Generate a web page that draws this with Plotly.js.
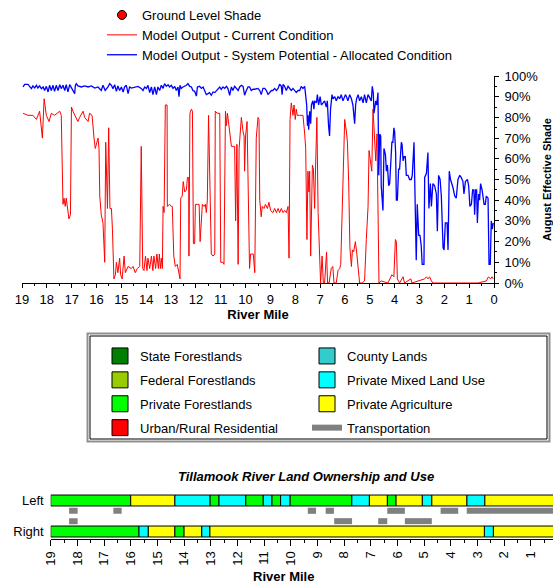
<!DOCTYPE html>
<html><head><meta charset="utf-8">
<script src="https://cdn.plot.ly/plotly-3.0.1.min.js"></script>
<style>html,body{margin:0;padding:0;background:#fff}#chart{width:553px;height:584px}</style>
</head><body><div id="chart"></div>
<script>
// ---------- Shade data (river mile, % effective shade) ----------
const redMile = [
18.96,18.76,18.56,18.42,18.29,18.18,18.11,18.02,17.91,17.82,
17.69,17.48,17.42,17.35,17.31,17.26,17.22,17.15,17.11,17.05,
17.01,16.95,16.88,16.75,16.68,16.54,16.48,16.34,16.28,16.18,
16.10,16.05,15.94,15.90,15.87,15.81,15.74,15.67,15.63,15.56,
15.51,15.46,15.40,15.36,15.30,15.24,15.20,15.14,15.07,15.03,
14.97,14.89,14.84,14.73,14.60,14.53,14.44,14.36,14.26,14.20,
14.14,14.09,14.03,13.97,13.93,13.86,13.79,13.73,13.69,13.62,
13.57,13.51,13.47,13.43,13.39,13.35,13.32,13.28,13.23,13.16,
13.15,13.06,12.99,12.95,12.89,12.83,12.75,12.69,12.64,12.61,
12.55,12.51,12.45,12.38,12.34,12.29,12.28,12.24,12.18,12.14,
12.10,12.05,12.02,11.94,11.87,11.83,11.78,11.74,11.67,11.62,
11.58,11.54,11.49,11.42,11.38,11.31,11.24,11.22,11.14,11.04,
11.00,10.91,10.87,10.81,10.77,10.73,10.68,10.63,10.57,10.44,
10.40,10.35,10.30,10.26,10.22,10.17,10.10,10.06,10.04,10.00,
9.94,9.88,9.84,9.80,9.69,9.63,9.57,9.50,9.46,9.43,
9.37,9.33,9.26,9.20,9.12,9.06,8.99,8.90,8.83,8.76,
8.69,8.63,8.56,8.49,8.43,8.36,8.29,8.25,8.21,8.16,
8.09,8.05,8.00,7.96,7.92,7.82,7.69,7.62,7.58,7.53,
7.49,7.45,7.42,7.38,7.31,7.27,7.22,7.18,7.13,7.08,
7.02,6.98,6.92,6.87,6.82,6.78,6.74,6.70,6.64,6.55,
6.49,6.44,6.35,6.28,6.21,6.17,6.12,6.07,6.01,5.94,
5.90,5.85,5.80,5.74,5.70,5.65,5.58,5.53,5.47,5.41,
5.31,5.21,5.14,5.07,5.03,4.98,4.92,4.87,4.80,4.76,
4.71,4.67,4.63,4.54,4.27,4.11,4.03,3.97,3.93,3.89,
3.80,3.66,3.60,3.35,3.30,2.79,2.72,2.66,2.59,2.52,
2.46,1.99,1.32,0.64,0.31,0.22,0.14,0.08,0.03];
const redShade = [
82,81,81,79,83,70,89,81,78,82,
81,83,81,38,41,37,41,36,31,33,
85,83,81,78,80,83,80,78,82,81,
70,65,70,65,42,33,29,10,68,36,
75,36,36,26,2,4,10,5,12,4,
2,13,5,8,7,8,5,7,8,66,
7,6,13,6,12,7,13,6,13,7,
14,7,14,7,12,7,37,34,86,86,
37,38,37,37,13,8,9,5,2,41,
42,49,44,45,51,51,13,82,84,83,
19,19,38,38,38,20,33,38,37,38,
34,40,81,39,14,13,14,83,82,82,
10,10,9,83,76,82,77,73,66,66,
30,67,9,65,73,80,73,71,54,71,
78,40,7,14,14,5,70,80,79,40,
32,37,36,38,36,39,35,34,36,34,
36,34,36,34,35,34,37,12,79,87,
81,86,79,84,81,81,81,72,65,21,
54,44,54,13,57,55,36,57,80,34,
8,0,13,0,0,7,15,0,0,7,
8,0,0,6,7,9,34,57,79,73,
68,49,17,8,16,15,20,15,5,0,
0,1,21,37,64,60,54,84,70,59,
72,33,0,1,0,4,3,21,20,2,
0,3,0,2,0,2,3,2,3,1,
0,0,0,0,1,3,2,3,2];

const blueMile = [
18.96,18.89,18.76,18.62,18.56,18.49,18.42,18.36,18.29,18.22,
18.15,18.09,18.02,17.95,17.89,17.82,17.75,17.69,17.62,17.55,
17.48,17.42,17.35,17.28,17.22,17.15,17.08,17.01,16.95,16.88,
16.85,16.81,16.75,16.61,16.48,16.34,16.21,16.07,15.94,15.81,
15.74,15.65,15.54,15.47,15.40,15.34,15.27,15.20,15.14,15.07,
15.00,14.93,14.87,14.80,14.73,14.67,14.60,14.46,14.33,14.20,
14.13,14.06,13.99,13.93,13.86,13.79,13.73,13.66,13.59,13.53,
13.46,13.39,13.32,13.26,13.19,13.12,13.06,12.99,12.92,12.85,
12.79,12.72,12.68,12.64,12.59,12.52,12.45,12.38,12.32,12.25,
12.18,12.12,12.05,11.98,11.94,11.85,11.78,11.71,11.65,11.58,
11.51,11.45,11.38,11.31,11.24,11.18,11.11,11.04,10.98,10.91,
10.84,10.77,10.71,10.64,10.57,10.51,10.44,10.37,10.30,10.24,
10.17,10.10,10.04,9.97,9.90,9.84,9.77,9.70,9.63,9.50,
9.43,9.37,9.30,9.23,9.16,9.10,9.03,8.96,8.90,8.83,
8.76,8.69,8.63,8.56,8.53,8.49,8.43,8.36,8.29,8.23,
8.16,8.09,8.02,7.96,7.89,7.82,7.76,7.69,7.62,7.58,
7.54,7.51,7.49,7.46,7.42,7.38,7.35,7.29,7.25,7.22,
7.15,7.11,7.06,7.00,6.95,6.88,6.82,6.75,6.71,6.66,
6.62,6.58,6.52,6.48,6.41,6.35,6.28,6.21,6.15,6.08,
6.04,5.98,5.94,5.88,5.81,5.74,5.68,5.64,5.61,5.57,
5.53,5.47,5.41,5.34,5.27,5.21,5.14,5.07,5.00,4.94,
4.90,4.86,4.83,4.80,4.76,4.72,4.70,4.67,4.64,4.60,
4.56,4.54,4.47,4.43,4.37,4.33,4.29,4.24,4.20,4.16,
4.11,4.07,4.03,4.00,3.96,3.93,3.89,3.84,3.80,3.73,
3.70,3.66,3.62,3.57,3.53,3.46,3.40,3.33,3.29,3.22,
3.17,3.13,3.09,3.03,2.98,2.93,2.89,2.82,2.79,2.72,
2.66,2.62,2.56,2.52,2.46,2.39,2.32,2.28,2.23,2.17,
2.12,2.05,2.01,1.96,1.89,1.85,1.80,1.75,1.65,1.58,
1.52,1.45,1.38,1.32,1.25,1.21,1.15,1.07,1.02,0.97,
0.91,0.86,0.81,0.78,0.74,0.70,0.67,0.62,0.58,0.54,
0.48,0.40,0.35,0.31,0.24,0.20,0.15,0.11,0.07,0.03];
const blueShade = [
94.7,96,96,93.9,95.2,94.2,95.5,94.2,95.2,93.9,
94.7,93,95,92.3,95.5,93,95.5,92.6,95.5,93,
95.8,93.9,95.5,93,95.8,92.3,95.8,94.2,93,91.5,
95.5,96.3,95.2,94.7,95.2,94.7,95.2,94.2,94.7,93,
95.5,93,94.7,96.3,95.5,93.9,95.8,92.6,95.2,93,
94.7,92.3,94.7,95.5,91.5,94.7,94.2,94.7,95,94,
93,94.7,94,95.5,92,94.7,91,94.7,91,94.7,
93,95.5,94,96.3,95,95.8,94.7,95.5,94,95,
93,94.7,90,95.5,94,94.7,95,95.5,96.3,95,
94.7,93,92.6,90.3,94.7,95,94,94.7,93,91,
91.5,92,90.7,92.3,92,93,93.9,94.7,93.6,94.7,
94,95,93.9,90.7,94.7,93,95,94,93,94.7,
95.5,95,90.7,93,94.7,94.7,93,93.6,93.6,94,
93,91,94,94,93,91,92,93,93,94,
93,94,96,95,91,96,95,93,95,94,
93,94,93,92,93,93,95,94,95,90,
86,76,81,74,83,77,86,88,84,88,
87,91,86,90,86,87,88,85,88,76,
71,84,91,89,90,88,90,89,91,88,
89,91,90,88,91,89,86,81,77,86,
89,91,88,90,87,91,87,91,89,88,
95,92,82,84,88,86,92,92,52,72,
71,47,35,65,62,54,57,47,48,56,
68,68,75,73,63,40,40,55,55,68,
67,59,61,61,52,52,50,50,52,68,
38,11,38,23,23,18,9,9,51,53,
63,36,48,37,48,47,43,25,52,50,
42,17,16,29,29,16,54,50,46,42,
41,50,52,51,49,43,49,50,47,37,
38,45,45,33,45,45,29,43,40,48,
45,38,38,42,41,9,9,30,26,29];

// ---------- Land ownership / use (river-mile break points, upstream -> downstream) ----------
const landClasses = ['State Forestlands','Federal Forestlands','Private Forestlands','Urban/Rural Residential',
                     'County Lands','Private Mixed Land Use','Private Agriculture'];
const landColors  = ['#008000','#99cc00','#00ff00','#ff0000','#33cccc','#00ffff','#ffff00'];
const landLegendColumn = ['legend2','legend2','legend2','legend2','legend3','legend3','legend3'];
const leftBreaks = [19,16.0,14.35,13.03,12.69,11.69,11.03,10.71,10.38,10.03,7.71,7.05,6.38,6.05,5.07,4.71,3.40,2.72,0];
const leftUse = ['Private Forestlands','Private Agriculture','Private Mixed Land Use','Private Forestlands',
  'Private Mixed Land Use','Private Forestlands','Private Mixed Land Use','Private Forestlands',
  'Private Mixed Land Use','Private Forestlands','Private Mixed Land Use','Private Agriculture',
  'Private Forestlands','Private Agriculture','Private Mixed Land Use','Private Agriculture',
  'Private Mixed Land Use','Private Agriculture'];
const rightBreaks = [19,15.69,15.34,14.35,14.0,13.34,13.03,2.74,2.40,0];
const rightUse = ['Private Forestlands','Private Mixed Land Use','Private Agriculture','Private Forestlands',
  'Private Agriculture','Private Mixed Land Use','Private Agriculture','Private Mixed Land Use','Private Agriculture'];
const transLeftFrom  = [18.31,16.65,9.36,8.69,6.38,4.38,3.40];
const transLeftTo    = [17.99,16.34,9.05,8.38,5.72,3.72,0];
const transRightFrom = [18.31,8.37,6.72,5.72];
const transRightTo   = [17.99,7.70,6.38,4.71];
const sideLabels = ['Left','Right'];

// ---------- layout helpers ----------
const W = 553, H = 584;
const px = v => v / W, py = v => 1 - v / H;
const rowPos = {Left: 3, LeftRoad: 2, RightRoad: 1, Right: 0};
const FONT = '"Liberation Sans", Arial, Helvetica, sans-serif';

const traces = [];
traces.push({type:'scatter', mode:'markers', x:[null], y:[null], name:'Ground Level Shade',
  marker:{color:'#ff0000', size:9, line:{color:'#000', width:1}}, legend:'legend', hoverinfo:'skip'});
traces.push({type:'scatter', mode:'lines', x:redMile, y:redShade, name:'Model Output - Current Condition',
  line:{color:'#ff0000', width:1}, legend:'legend'});
traces.push({type:'scatter', mode:'lines', x:blueMile, y:blueShade, name:'Model Output - System Potential - Allocated Condition',
  line:{color:'#0000ff', width:1.3}, legend:'legend'});

function segments(breaks, uses, cls, pos, out){
  for (let i = 0; i < uses.length; i++) if (uses[i] === cls) {
    out.y.push(pos); out.base.push(breaks[i+1]); out.x.push(breaks[i] - breaks[i+1]);
  }
}
landClasses.forEach((cls, k) => {
  const s = {x:[], y:[], base:[]};
  segments(leftBreaks, leftUse, cls, rowPos.Left, s);
  segments(rightBreaks, rightUse, cls, rowPos.Right, s);
  if (s.x.length) traces.push({type:'bar', orientation:'h', x:s.x, y:s.y, base:s.base, width:1.06,
    xaxis:'x2', yaxis:'y2', marker:{color:landColors[k], line:{color:'#000', width:1}},
    showlegend:false, hoverinfo:'skip'});
  traces.push({type:'scatter', mode:'markers', x:[null], y:[null], xaxis:'x2', yaxis:'y2', name:cls,
    legend:landLegendColumn[k], legendgroup:cls,
    marker:{symbol:'square', size:16, color:landColors[k], line:{color:'#000', width:1}}, hoverinfo:'skip'});
});
const tx = [], ty = [];
transLeftFrom.forEach((a,i) => { tx.push(a, transLeftTo[i], null); ty.push(rowPos.LeftRoad, rowPos.LeftRoad, null); });
transRightFrom.forEach((a,i) => { tx.push(a, transRightTo[i], null); ty.push(rowPos.RightRoad, rowPos.RightRoad, null); });
traces.push({type:'scatter', mode:'lines', x:tx, y:ty, xaxis:'x2', yaxis:'y2', name:'Transportation',
  legend:'legend3', legendgroup:'Transportation', line:{color:'#808080', width:6}, connectgaps:false, hoverinfo:'skip'});

const layout = {
  width:W, height:H, margin:{l:0,r:0,t:0,b:0}, paper_bgcolor:'#fff', plot_bgcolor:'rgba(0,0,0,0)',
  font:{family:FONT, size:13, color:'#000'}, showlegend:true, barmode:'overlay',
  xaxis:{domain:[px(22),px(494)], range:[19,0], anchor:'y', tickmode:'linear', tick0:0, dtick:1,
    ticks:'outside', ticklen:4, tickcolor:'#000', showline:true, linecolor:'#000', linewidth:1,
    showgrid:false, zeroline:false, minor:{dtick:0.5, ticks:'outside', ticklen:2, tickcolor:'#000'},
    tickfont:{size:13}, title:{text:'<b>River Mile</b>', font:{size:13}, standoff:2}},
  yaxis:{domain:[py(283),py(76)], range:[0,100], side:'right', anchor:'x', tickmode:'linear', tick0:0, dtick:10,
    ticksuffix:'%', ticks:'outside', ticklen:4, tickcolor:'#000', showline:true, linecolor:'#000',
    showgrid:false, zeroline:false, minor:{dtick:5, ticks:'outside', ticklen:2, tickcolor:'#000'},
    ticklabelstandoff:3,
    tickfont:{size:13}, title:{text:'<b>August Effective Shade</b>', font:{size:11}, standoff:7}},
  xaxis2:{domain:[px(50.7),1], range:[19,0.166], anchor:'y2', tickmode:'linear', tick0:0, dtick:1,
    ticks:'outside', ticklen:6, tickcolor:'#000', showline:true, linecolor:'#000', showgrid:false, zeroline:false,
    minor:{dtick:0.5, ticks:'outside', ticklen:3, tickcolor:'#000'}, tickangle:-90, tickfont:{size:13}},
  yaxis2:{domain:[py(539),py(490)], range:[-0.726,4.016], anchor:'x2', tickvals:[rowPos.Left, rowPos.Right],
    ticktext:sideLabels, ticks:'', showline:false, showgrid:false, zeroline:false, ticklabelstandoff:6,
    tickfont:{size:13}},
  legend:{x:px(102), y:py(-0.5), xanchor:'left', yanchor:'top', bgcolor:'rgba(0,0,0,0)', font:{size:13},
    traceorder:'normal', itemwidth:30},
  legend2:{x:px(100), y:py(341), xanchor:'left', yanchor:'top', orientation:'v', tracegroupgap:4,
    bgcolor:'rgba(0,0,0,0)', font:{size:13}, traceorder:'grouped'},
  legend3:{x:px(307), y:py(341), xanchor:'left', yanchor:'top', orientation:'v', tracegroupgap:4,
    bgcolor:'rgba(0,0,0,0)', font:{size:13}, traceorder:'grouped'},
  shapes:[
    {type:'rect', xref:'paper', yref:'paper', x0:px(87.5), x1:px(549.5), y0:py(333.5), y1:py(441.5), line:{color:'#909090', width:2}},
    {type:'rect', xref:'paper', yref:'paper', x0:px(90), x1:px(547), y0:py(336), y1:py(439), line:{color:'#000', width:1}}
  ],
  annotations:[
    {xref:'paper', yref:'paper', x:px(306), y:py(476), text:'<b><i>Tillamook River Land Ownership and Use</i></b>',
     showarrow:false, xanchor:'center', yanchor:'middle', font:{size:13}},
    {xref:'paper', yref:'paper', x:px(283), y:py(576), text:'<b>River Mile</b>',
     showarrow:false, xanchor:'center', yanchor:'middle', font:{size:13}}
  ]
};
Plotly.newPlot('chart', traces, layout, {displayModeBar:false, staticPlot:true});
</script></body></html>
